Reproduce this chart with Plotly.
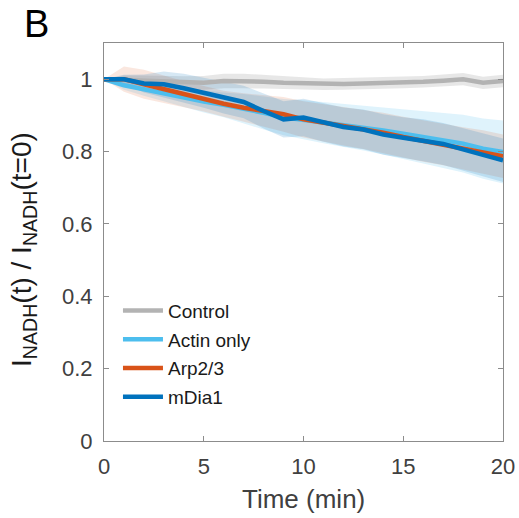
import plotly.graph_objects as go

time_min = list(range(0, 21))

control_mean = [1.000, 0.998, 0.995, 0.992, 0.990, 0.990, 0.995, 0.995, 0.993, 0.990, 0.989,
                0.986, 0.987, 0.988, 0.989, 0.991, 0.993, 0.996, 1.000, 0.990, 0.995]
control_std = [0.000, 0.012, 0.015, 0.016, 0.018, 0.019, 0.020, 0.020, 0.019, 0.018, 0.017,
               0.016, 0.016, 0.016, 0.016, 0.016, 0.016, 0.017, 0.017, 0.017, 0.017]

actin_mean = [1.000, 0.983, 0.972, 0.960, 0.949, 0.938, 0.929, 0.919, 0.907, 0.895, 0.888,
              0.880, 0.872, 0.866, 0.858, 0.849, 0.840, 0.831, 0.822, 0.808, 0.799]
actin_std = [0.000, 0.012, 0.018, 0.022, 0.026, 0.030, 0.034, 0.040, 0.046, 0.050, 0.054,
             0.057, 0.060, 0.063, 0.066, 0.070, 0.073, 0.076, 0.080, 0.083, 0.087]

arp_mean = [1.000, 1.000, 0.986, 0.972, 0.958, 0.946, 0.932, 0.921, 0.912, 0.903, 0.889,
            0.880, 0.870, 0.861, 0.852, 0.840, 0.829, 0.820, 0.808, 0.799, 0.787]
arp_std = [0.000, 0.035, 0.040, 0.038, 0.036, 0.035, 0.036, 0.040, 0.044, 0.048, 0.050,
           0.052, 0.053, 0.054, 0.055, 0.056, 0.057, 0.058, 0.059, 0.060, 0.060]

mdia_mean = [1.000, 1.000, 0.988, 0.986, 0.975, 0.963, 0.949, 0.937, 0.912, 0.889, 0.894,
             0.880, 0.868, 0.861, 0.847, 0.838, 0.831, 0.821, 0.806, 0.792, 0.776]
mdia_std = [0.000, 0.012, 0.025, 0.035, 0.040, 0.042, 0.044, 0.045, 0.048, 0.050, 0.052,
            0.053, 0.054, 0.055, 0.056, 0.057, 0.058, 0.058, 0.059, 0.060, 0.060]

series_names = ["Control", "Actin only", "Arp2/3", "mDia1"]
line_colors = ["#b3b3b3", "#4dbeee", "#d95319", "#0072bd"]
band_colors = ["rgba(160,160,160,0.25)", "rgba(77,190,238,0.18)",
               "rgba(217,83,25,0.14)", "rgba(0,114,189,0.16)"]
means = [control_mean, actin_mean, arp_mean, mdia_mean]
stds = [control_std, actin_std, arp_std, mdia_std]

x_title = "Time (min)"
y_title = "I<sub>NADH</sub>(t) / I<sub>NADH</sub>(t=0)"
panel_label = "B"

fig = go.Figure()

for name, bc, m, s in zip(series_names, band_colors, means, stds):
    upper = [a + b for a, b in zip(m, s)]
    lower = [a - b for a, b in zip(m, s)]
    fig.add_trace(go.Scatter(
        x=time_min + time_min[::-1], y=upper + lower[::-1],
        fill="toself", fillcolor=bc, line=dict(width=0),
        mode="lines", hoverinfo="skip", showlegend=False))

for name, lc, m in zip(series_names, line_colors, means):
    fig.add_trace(go.Scatter(
        x=time_min, y=m, mode="lines", name=name, legendgroup=name,
        line=dict(color=lc, width=4.5)))

font_family = "Liberation Sans, Arial, sans-serif"

fig.update_layout(
    width=519, height=518,
    margin=dict(l=104, r=16, t=43, b=77, autoexpand=False),
    paper_bgcolor="white", plot_bgcolor="white",
    font=dict(family=font_family, color="#262626"),
    showlegend=True,
    legend=dict(x=0.035, y=0.375, xanchor="left", yanchor="top",
                bgcolor="rgba(0,0,0,0)", font=dict(size=19, color="#1a1a1a"),
                tracegroupgap=1, itemwidth=40),
    xaxis=dict(range=[0, 20], tickvals=[0, 5, 10, 15, 20],
               ticktext=["0", "5", "10", "15", "20"],
               showline=True, linecolor="#8c8c8c", linewidth=1, mirror="ticks",
               ticks="inside", ticklen=5, tickcolor="#8c8c8c",
               showgrid=False, zeroline=False, automargin=False,
               tickfont=dict(size=22, color="#404040"), ticklabelstandoff=6),
    yaxis=dict(range=[0, 1.1], tickvals=[0, 0.2, 0.4, 0.6, 0.8, 1.0],
               ticktext=["0", "0.2", "0.4", "0.6", "0.8", "1"],
               showline=True, linecolor="#8c8c8c", linewidth=1, mirror="ticks",
               ticks="inside", ticklen=5, tickcolor="#8c8c8c",
               showgrid=False, zeroline=False, automargin=False,
               tickfont=dict(size=22, color="#404040"), ticklabelstandoff=6),
)

fig.add_annotation(text=x_title, xref="paper", yref="paper",
                   x=0.5, y=-0.145, xanchor="center", yanchor="middle",
                   showarrow=False, font=dict(size=26, color="#404040", family=font_family))
fig.add_annotation(text=y_title, xref="paper", yref="paper", textangle=-90,
                   x=-0.2005, y=0.48, xanchor="center", yanchor="middle",
                   showarrow=False, font=dict(size=28, color="#1a1a1a", family=font_family))
fig.add_annotation(text=panel_label, xref="paper", yref="paper",
                   x=-0.2055, y=1.048, xanchor="left", yanchor="middle",
                   showarrow=False, font=dict(size=38, color="#000000", family=font_family))

fig.write_html("out.html", config={"displayModeBar": False},
               post_script="document.body.style.margin='0';document.body.style.overflow='hidden';")
